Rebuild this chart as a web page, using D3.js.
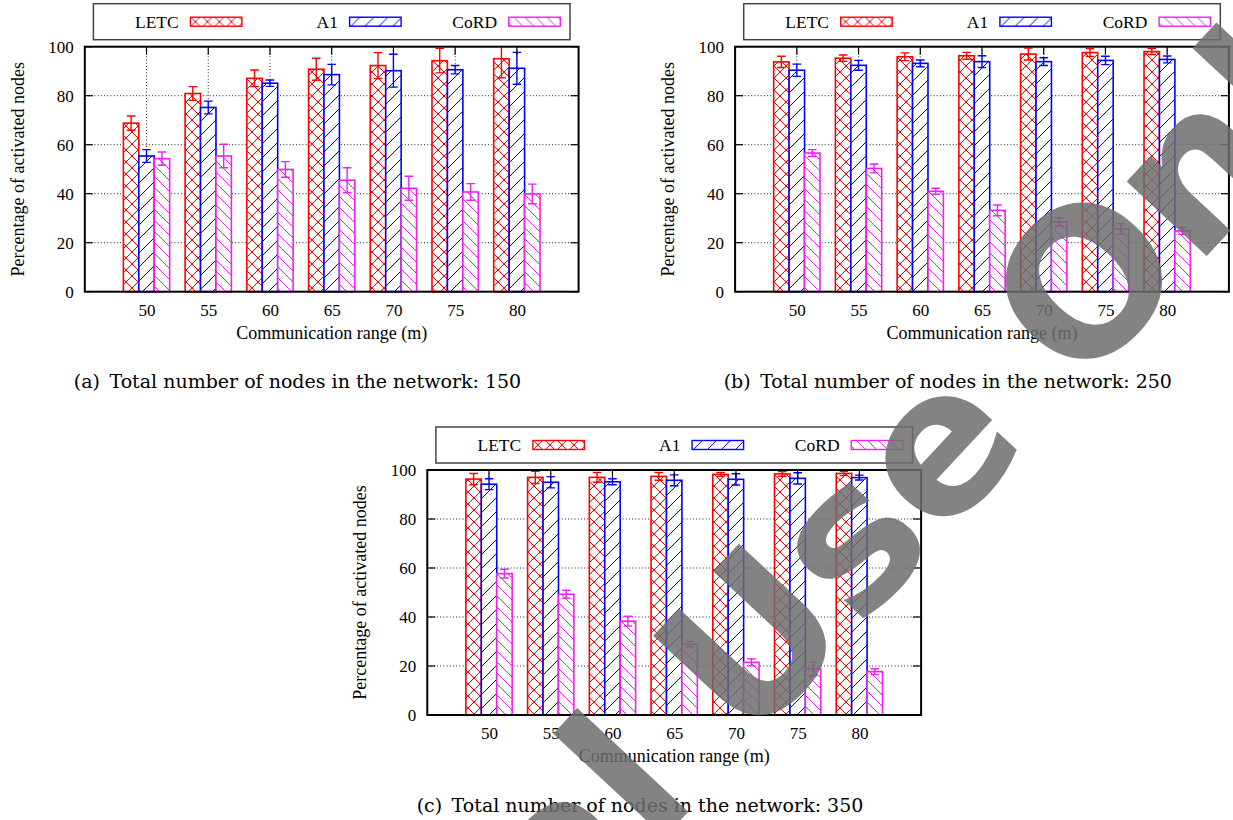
<!DOCTYPE html>
<html><head><meta charset="utf-8">
<script src="https://cdn.jsdelivr.net/npm/d3@7"></script>
<style>html,body{margin:0;padding:0;background:#fff;} svg{display:block;}</style>
</head><body>
<svg id="chart" width="1233" height="820"></svg>
<script>
// ---------------- data ----------------
const categories = [50, 55, 60, 65, 70, 75, 80];
const seriesNames = ["LETC", "A1", "CoRD"];
const yTicks = [0, 20, 40, 60, 80, 100];

// (a) 150 nodes
const letc150 = [68.8, 80.9, 87.1, 90.8, 92.3, 94.3, 95.1];
const letc150Err = [2.9, 2.8, 3.4, 4.5, 5.3, 5.0, 7.8];
const a1_150 = [55.4, 75.2, 85.1, 88.6, 90.2, 90.6, 91.2];
const a1_150Err = [2.6, 2.6, 1.3, 4.2, 6.7, 1.7, 6.5];
const cord150 = [54.3, 55.4, 49.9, 45.5, 42.2, 40.7, 39.9];
const cord150Err = [2.7, 4.8, 3.2, 5.1, 4.9, 3.4, 4.0];

// (b) 250 nodes
const letc250 = [93.8, 95.3, 95.9, 96.3, 97.0, 97.6, 98.0];
const letc250Err = [2.3, 1.3, 1.6, 1.4, 2.4, 1.6, 1.2];
const a1_250 = [90.4, 92.4, 93.2, 93.9, 93.9, 94.4, 94.8];
const a1_250Err = [2.5, 2.0, 1.4, 2.4, 1.6, 1.7, 1.4];
const cord250 = [56.6, 50.3, 41.0, 33.2, 28.5, 25.6, 24.8];
const cord250Err = [1.4, 1.8, 1.2, 2.2, 1.7, 2.2, 1.4];

// (c) 350 nodes
const letc350 = [96.3, 97.0, 97.0, 97.4, 98.2, 98.4, 98.6];
const letc350Err = [2.3, 2.5, 2.0, 1.6, 0.8, 1.0, 0.9];
const a1_350 = [94.2, 95.0, 95.2, 95.8, 96.2, 96.6, 96.9];
const a1_350Err = [2.2, 2.3, 1.2, 2.2, 2.3, 2.3, 1.0];
const cord350 = [57.7, 49.3, 38.3, 28.9, 21.5, 18.8, 17.7];
const cord350Err = [1.8, 1.6, 2.0, 1.1, 1.4, 2.8, 1.2];

const captions = [
  "(a)\u2002Total number of nodes in the network: 150",
  "(b)\u2002Total number of nodes in the network: 250",
  "(c)\u2002Total number of nodes in the network: 350"
];
const xTitle = "Communication range (m)";
const yTitle = "Percentage of activated nodes";
const watermarkText = "Personal Use Only";

// ---------------- layout / style ----------------
const colors = {LETC: "#ff0000", A1: "#0000ff", CoRD: "#f020f0"};
const FONT = "'Liberation Serif','Times New Roman',serif";
const panels = [
  {left: 84.8, top: 46.7, vals: [letc150, a1_150, cord150], errs: [letc150Err, a1_150Err, cord150Err], caption: captions[0]},
  {left: 735.1, top: 46.7, vals: [letc250, a1_250, cord250], errs: [letc250Err, a1_250Err, cord250Err], caption: captions[1]},
  {left: 427.3, top: 470.0, vals: [letc350, a1_350, cord350], errs: [letc350Err, a1_350Err, cord350Err], caption: captions[2]}
];
const PW = 493.8, PH = 245.0;

const svg = d3.select("#chart");
const defs = svg.append("defs");

// patterns
function makePattern(id, color, w, h, paths) {
  const p = defs.append("pattern").attr("id", id).attr("patternUnits", "userSpaceOnUse")
    .attr("width", w).attr("height", h);
  p.append("rect").attr("width", w).attr("height", h).attr("fill", "#fff");
  paths.forEach(d => p.append("path").attr("d", d).attr("stroke", color).attr("stroke-width", 1).attr("fill", "none"));
}
makePattern("pat-LETC", colors.LETC, 12, 12, ["M0,0L12,12", "M12,0L0,12", "M-6,6L0,12", "M6,-6L18,6"]);
makePattern("pat-A1", colors.A1, 14, 14, ["M0,14L14,0", "M-3,3L3,-3", "M11,17L17,11"]);
makePattern("pat-CoRD", colors.CoRD, 11, 11, ["M0,0L11,11", "M-3,8L3,14", "M8,-3L14,3"]);

panels.forEach((P, pi) => {
  const x = d3.scaleLinear().domain([0, categories.length + 1]).range([P.left, P.left + PW]);
  const y = d3.scaleLinear().domain([0, 100]).range([P.top + PH, P.top]);
  const g = svg.append("g");
  const clipId = "clip" + pi;
  defs.append("clipPath").attr("id", clipId).append("rect")
    .attr("x", P.left).attr("y", P.top).attr("width", PW).attr("height", PH);

  // grid
  const grid = g.append("g").attr("stroke", "#222").attr("stroke-width", 1).attr("stroke-dasharray", "1,2.2");
  grid.selectAll("line.h").data(yTicks.filter(t => t > 0 && t < 100)).join("line")
    .attr("x1", P.left).attr("x2", P.left + PW).attr("y1", d => y(d)).attr("y2", d => y(d));
  grid.selectAll("line.v").data(categories).join("line")
    .attr("x1", (d, i) => x(i + 1)).attr("x2", (d, i) => x(i + 1)).attr("y1", P.top).attr("y2", P.top + PH);

  // bars
  const bw = 0.25;
  seriesNames.forEach((s, si) => {
    const sg = g.append("g");
    sg.selectAll("rect").data(P.vals[si]).join("rect")
      .attr("x", (d, i) => x(i + 1 + (si - 1.5) * bw))
      .attr("width", x(bw) - x(0))
      .attr("y", d => y(d))
      .attr("height", d => y(0) - y(d))
      .attr("fill", `url(#pat-${s})`)
      .attr("stroke", colors[s]).attr("stroke-width", 1.6);
  });
  // error bars
  seriesNames.forEach((s, si) => {
    const eg = g.append("g").attr("clip-path", `url(#${clipId})`).attr("stroke", colors[s]).attr("stroke-width", 1.4);
    P.vals[si].forEach((v, i) => {
      const cx = x(i + 1 + (si - 1) * bw);
      const e = P.errs[si][i];
      eg.append("line").attr("x1", cx).attr("x2", cx).attr("y1", y(v - e)).attr("y2", y(v + e));
      eg.append("line").attr("x1", cx - 4.3).attr("x2", cx + 4.3).attr("y1", y(v - e)).attr("y2", y(v - e));
      eg.append("line").attr("x1", cx - 4.3).attr("x2", cx + 4.3).attr("y1", y(v + e)).attr("y2", y(v + e));
    });
  });

  // ticks (inward, mirrored)
  const tk = g.append("g").attr("stroke", "#000").attr("stroke-width", 1.2);
  yTicks.forEach(t => {
    tk.append("line").attr("x1", P.left).attr("x2", P.left + 8).attr("y1", y(t)).attr("y2", y(t));
    tk.append("line").attr("x1", P.left + PW - 8).attr("x2", P.left + PW).attr("y1", y(t)).attr("y2", y(t));
  });
  categories.forEach((c, i) => {
    tk.append("line").attr("x1", x(i + 1)).attr("x2", x(i + 1)).attr("y1", P.top).attr("y2", P.top + 8);
  });

  // border
  g.append("rect").attr("x", P.left).attr("y", P.top).attr("width", PW).attr("height", PH)
    .attr("fill", "none").attr("stroke", "#000").attr("stroke-width", 2);

  // axes labels via d3 axes (lines hidden)
  const yAxis = d3.axisLeft(y).tickValues(yTicks).tickSize(0).tickPadding(11);
  const ya = g.append("g").attr("transform", `translate(${P.left},0)`).call(yAxis);
  const xAxis = d3.axisBottom(x).tickValues(categories.map((c, i) => i + 1))
    .tickFormat((d, i) => categories[i]).tickSize(0).tickPadding(12);
  const xa = g.append("g").attr("transform", `translate(0,${P.top + PH})`).call(xAxis);
  [ya, xa].forEach(a => {
    a.select(".domain").remove();
    a.selectAll("text").attr("font-family", FONT).attr("font-size", 17).attr("fill", "#000");
  });

  // titles
  g.append("text").attr("x", P.left + PW / 2).attr("y", P.top + PH + 47)
    .attr("text-anchor", "middle").attr("font-family", FONT).attr("font-size", 18).text(xTitle);
  g.append("text").attr("transform", `translate(${P.left - 67},${P.top + PH / 2}) rotate(-90)`)
    .attr("text-anchor", "middle").attr("dominant-baseline", "central")
    .attr("font-family", FONT).attr("font-size", 18).text(yTitle);

  // legend
  const L = g.append("g").attr("transform", `translate(${P.left + 8.6},${P.top - 43})`);
  L.append("rect").attr("width", 476.6).attr("height", 36).attr("fill", "#fff")
    .attr("stroke", "#444").attr("stroke-width", 1.5);
  seriesNames.forEach((s, si) => {
    const ox = si * 159.2;
    L.append("text").attr("x", ox + 85.3).attr("y", 18).attr("text-anchor", "end")
      .attr("dominant-baseline", "central").attr("font-family", FONT).attr("font-size", 17.5).text(s);
    L.append("rect").attr("x", ox + 97).attr("y", 13.5).attr("width", 51.5).attr("height", 9)
      .attr("fill", `url(#pat-${s})`).attr("stroke", colors[s]).attr("stroke-width", 1.4);
  });

  // caption
  svg.append("text").attr("x", P.left + 212.7).attr("y", P.top + 341.7).attr("text-anchor", "middle")
    .attr("font-family", "'DejaVu Serif',serif").attr("font-size", 19).attr("fill", "#000").text(P.caption);
});

// watermark: filled bold letters, "U" centred near a target point, rotated
const wmAngle = -47, wmSize = 200, wmTarget = [750, 640];
const wm = svg.append("text")
  .attr("font-family", "'DejaVu Sans',sans-serif").attr("font-weight", "bold").attr("font-size", wmSize)
  .attr("fill", "#6e6e6e").attr("opacity", 0.85).text(watermarkText);
const uIdx = watermarkText.indexOf("U");
const ext = wm.node().getExtentOfChar(uIdx);
const cx0 = ext.x + ext.width / 2, cy0 = -0.36 * wmSize;
const a = wmAngle * Math.PI / 180;
const rx = cx0 * Math.cos(a) - cy0 * Math.sin(a), ry = cx0 * Math.sin(a) + cy0 * Math.cos(a);
wm.attr("transform", `translate(${wmTarget[0] - rx},${wmTarget[1] - ry}) rotate(${wmAngle})`);
</script>
</body></html>
